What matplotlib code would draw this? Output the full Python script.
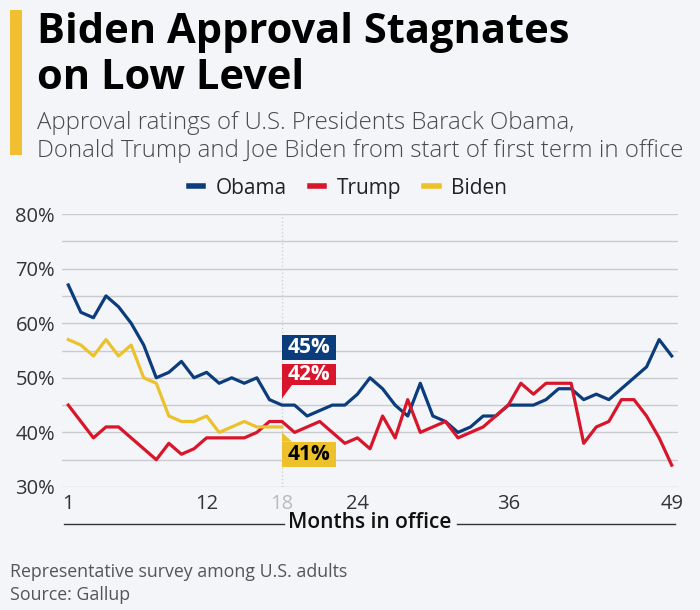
import matplotlib.pyplot as plt
from matplotlib.patches import Rectangle, Polygon
from matplotlib.lines import Line2D

plt.rcParams['font.family'] = ['Open Sans', 'DejaVu Sans']

months = list(range(1, 50))
obama = [67, 62, 61, 65, 63, 60, 56, 50, 51, 53, 50, 51, 49, 50, 49, 50, 46, 45,
         45, 43, 44, 45, 45, 47, 50, 48, 45, 43, 49, 43, 42, 40, 41, 43, 43, 45,
         45, 45, 46, 48, 48, 46, 47, 46, 48, 50, 52, 57, 54]
trump = [45, 42, 39, 41, 41, 39, 37, 35, 38, 36, 37, 39, 39, 39, 39, 40, 42, 42,
         40, 41, 42, 40, 38, 39, 37, 43, 39, 46, 40, 41, 42, 39, 40, 41, 43, 45,
         49, 47, 49, 49, 49, 38, 41, 42, 46, 46, 43, 39, 34]
biden = [57, 56, 54, 57, 54, 56, 50, 49, 43, 42, 42, 43, 40, 41, 42, 41, 41, 41]

series_names = ['Obama', 'Trump', 'Biden']
xticks = [1, 12, 18, 24, 36, 49]

navy = '#0b3c7c'
red = '#d8152a'
yellow = '#ecc12c'
bg = '#f3f5f8'

fig = plt.figure(figsize=(7, 6.1), dpi=100, facecolor=bg)
ax = fig.add_axes([62 / 700, 123 / 610, 616 / 700, 273 / 610], facecolor=bg)

for v in range(30, 81, 5):
    ax.axhline(v, color='#c9cbce', lw=1, zorder=1)
ax.axvline(18, color='#cfd2d6', lw=1, ls=':', zorder=1)

ax.plot(months, obama, color=navy, lw=2.3, zorder=3, clip_on=False, label=series_names[0])
ax.plot(months, trump, color=red, lw=2.3, zorder=3, clip_on=False, label=series_names[1])
ax.plot(months[:len(biden)], biden, color=yellow, lw=2.3, zorder=3, clip_on=False, label=series_names[2])

ax.set_xlim(0.5, 49.5)
ax.set_ylim(30, 80)
ax.set_yticks(range(30, 81, 10))
ax.set_yticklabels([f'{v}%' for v in range(30, 81, 10)])
ax.set_xticks(xticks)
ax.set_xticklabels([str(t) for t in xticks])
ax.tick_params(length=0, labelsize=14.5, colors='#333333', pad=5)
ax.tick_params(axis='y', pad=5)
ax.get_xticklabels()[2].set_color('#bbbbbb')
for s in ax.spines.values():
    s.set_visible(False)

# value labels at month 18
m = 18
bx0, bx1 = 18, 22.3
boxes = [(obama[m - 1], navy, 'white', 53.3, 57.9, None),
         (trump[m - 1], red, 'white', 48.7, 52.6, 'down'),
         (biden[m - 1], yellow, 'black', 33.6, 38.3, 'up')]
for val, col, tcol, y0, y1, ptr in boxes:
    ax.add_patch(Rectangle((bx0, y0), bx1 - bx0, y1 - y0, facecolor=col,
                           edgecolor='none', zorder=5))
    if ptr == 'down':
        ax.add_patch(Polygon([(bx0, y0), (bx0 + 0.8, y0), (bx0, y0 - 2.5)],
                             facecolor=col, edgecolor='none', zorder=5))
    elif ptr == 'up':
        ax.add_patch(Polygon([(bx0, y1), (bx0 + 0.8, y1), (bx0, y1 + 1.7)],
                             facecolor=col, edgecolor='none', zorder=5))
    ax.text((bx0 + bx1) / 2, (y0 + y1) / 2, f'{val}%', color=tcol, fontsize=15,
            fontweight='bold', ha='center', va='center', zorder=6)

# legend
fig.legend(handles=[Line2D([], [], color=c, lw=4) for c in (navy, red, yellow)],
           labels=series_names, loc='center', bbox_to_anchor=(348 / 700, (610 - 188) / 610),
           ncol=3, frameon=False, fontsize=15, handlelength=0.7, handletextpad=0.6,
           columnspacing=1.1, labelcolor='#222222')

# x axis title with rules
fig.text(370 / 700, (610 - 523) / 610, 'Months in office', ha='center', va='center',
         fontsize=15, fontweight='semibold', color='#111111')
yl = (610 - 524) / 610
fig.add_artist(Line2D([64 / 700, 284 / 700], [yl, yl], color='#333333', lw=1))
fig.add_artist(Line2D([457 / 700, 675 / 700], [yl, yl], color='#333333', lw=1))

# header
fig.add_artist(Rectangle((10 / 700, 1 - 155 / 610), 12 / 700, 145 / 610,
                         transform=fig.transFigure, facecolor='#f0c030', edgecolor='none'))
fig.text(37 / 700, 1 - 43 / 610, 'Biden Approval Stagnates', fontsize=30,
         fontweight='bold', color='black', va='baseline')
fig.text(37 / 700, 1 - 89 / 610, 'on Low Level', fontsize=30,
         fontweight='bold', color='black', va='baseline')
fig.text(37 / 700, 1 - 129 / 610, 'Approval ratings of U.S. Presidents Barack Obama,',
         fontsize=17.3, color='#4a4a4a', va='baseline', fontweight='light')
fig.text(37 / 700, 1 - 157 / 610, 'Donald Trump and Joe Biden from start of first term in office',
         fontsize=17.3, color='#4a4a4a', va='baseline', fontweight='light')

# footer
fig.text(10 / 700, 1 - 577 / 610, 'Representative survey among U.S. adults',
         fontsize=12.8, color='#555555', va='baseline')
fig.text(10 / 700, 1 - 600 / 610, 'Source: Gallup', fontsize=12.8, color='#555555',
         va='baseline')

fig.savefig('out.png', dpi=100, facecolor=bg)
